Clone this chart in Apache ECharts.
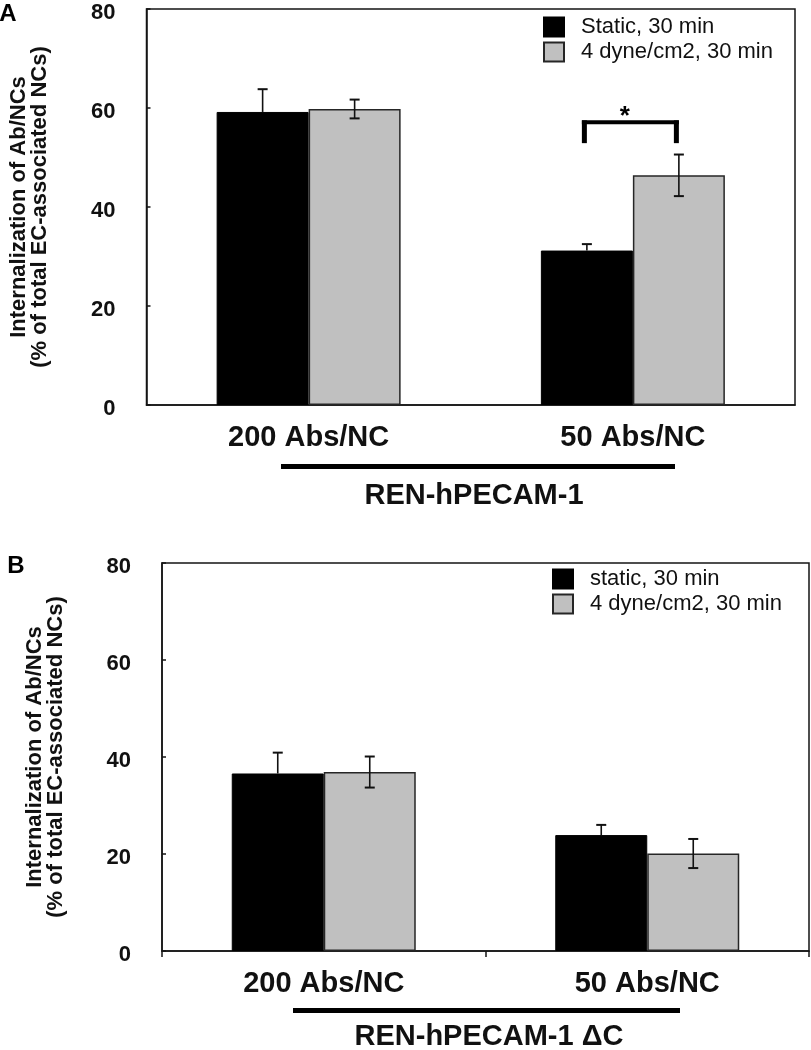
<!DOCTYPE html>
<html><head><meta charset="utf-8">
<script src="https://cdn.jsdelivr.net/npm/echarts@6/dist/echarts.min.js"></script>
<style>html,body{margin:0;padding:0;background:#fff}#c{width:811px;height:1050px}</style>
</head><body><div id="c"></div>
<script>
// ---------- data ----------
const categories = ['200 Abs/NC', '50 Abs/NC'];
const yTicks = [0, 20, 40, 60, 80];
const yTitle = 'Internalization of Ab/NCs\n(% of total EC-associated NCs)';

// Panel A
const aStaticName = 'Static, 30 min';
const aShearName = '4 dyne/cm2, 30 min';
const aStatic = [59.2, 31.2];
const aStaticErr = [4.6, 1.3];
const aShear = [59.8, 46.4];
const aShearErr = [1.9, 4.2];
const aBracket = [1, 57.1, 52.9];   // category index, bracket bar value, tick end value
const aGroupLabel = 'REN-hPECAM-1';

// Panel B
const bStaticName = 'static, 30 min';
const bShearName = '4 dyne/cm2, 30 min';
const bStatic = [36.6, 23.9];
const bStaticErr = [4.3, 2.1];
const bShear = [36.9, 20.1];
const bShearErr = [3.2, 3.0];
const bGroupLabel = 'REN-hPECAM-1 \u0394C';

// ---------- styling ----------
const FF = '"Liberation Sans", Arial, Helvetica, sans-serif';
const BAR_W = 92;
const INK = '#151515';
const GRAY = '#c0c0c0';

function yAxisCfg(gridIndex) {
  return {
    type: 'value', gridIndex,
    min: yTicks[0], max: yTicks[yTicks.length - 1], interval: yTicks[1] - yTicks[0],
    name: yTitle, nameLocation: 'middle', nameRotate: 90, nameGap: 96,
    nameTextStyle: { fontFamily: FF, fontWeight: 'bold', fontSize: 22, lineHeight: 21, color: '#111' },
    axisLine: { show: true, lineStyle: { color: INK, width: 1.5 } },
    axisTick: { show: true, inside: true, length: 4, lineStyle: { color: INK, width: 1.5 } },
    axisLabel: {
      margin: 31, formatter: '{t|{value}}',
      rich: { t: { padding: [8, 0, 0, 0], fontFamily: FF, fontWeight: 'bold', fontSize: 22, color: '#111' } }
    },
    splitLine: { show: false }
  };
}
function xAxisCfg(gridIndex, ticks) {
  return {
    type: 'category', gridIndex, data: categories,
    axisLine: { show: true, lineStyle: { color: INK, width: 1.5 } },
    axisTick: { show: ticks, inside: false, length: 6, alignWithLabel: false, lineStyle: { color: INK, width: 1.5 } },
    axisLabel: { margin: 18, fontFamily: FF, fontWeight: 'bold', fontSize: 29, color: '#111' },
    splitLine: { show: false }
  };
}
function barSeries(gridIndex, name, data, gray) {
  return {
    type: 'bar', name, data, xAxisIndex: gridIndex, yAxisIndex: gridIndex,
    barWidth: BAR_W, barGap: '0%', z: 2,
    itemStyle: gray ? { color: GRAY, borderColor: '#262626', borderWidth: 1.5 } : { color: '#000', borderColor: '#000', borderWidth: 1 }
  };
}
// upperOnly: the lower half is hidden inside the black bar in the original
function errorSeries(gridIndex, values, errs, side, upperOnly) {
  return {
    type: 'custom', xAxisIndex: gridIndex, yAxisIndex: gridIndex, z: 5, silent: true,
    encode: { x: 0, y: [1, 2, 3] },
    data: values.map((v, i) => [i, v - errs[i], v + errs[i], v]),
    renderItem(params, api) {
      const c = api.value(0);
      const lo = api.coord([c, upperOnly ? api.value(3) : api.value(1)]);
      const hi = api.coord([c, api.value(2)]);
      const cx = lo[0] + side * BAR_W / 2;
      const cap = 5;
      const children = [
        { type: 'line', shape: { x1: cx, y1: hi[1], x2: cx, y2: lo[1] }, style: { stroke: '#111', lineWidth: 1.6 } },
        { type: 'line', shape: { x1: cx - cap, y1: hi[1], x2: cx + cap, y2: hi[1] }, style: { stroke: '#111', lineWidth: 2 } }
      ];
      if (!upperOnly) children.push({ type: 'line', shape: { x1: cx - cap, y1: lo[1], x2: cx + cap, y2: lo[1] }, style: { stroke: '#111', lineWidth: 2 } });
      return { type: 'group', children };
    }
  };
}
const bracketSeries = {
  type: 'custom', xAxisIndex: 0, yAxisIndex: 0, z: 6, silent: true,
  encode: { x: 0, y: [1, 2] },
  data: [aBracket],
  renderItem(params, api) {
    const c = api.value(0);
    const top = api.coord([c, api.value(1)]);
    const bot = api.coord([c, api.value(2)]);
    const xl = top[0] - BAR_W / 2 - 2.5;
    const xr = top[0] + BAR_W / 2 - 2.5;
    return { type: 'group', children: [
      { type: 'rect', shape: { x: xl - 2.5, y: top[1] - 2, width: xr - xl + 5, height: 4 }, style: { fill: '#000' } },
      { type: 'rect', shape: { x: xl - 2.5, y: top[1] - 2, width: 5, height: bot[1] - top[1] + 2 }, style: { fill: '#000' } },
      { type: 'rect', shape: { x: xr - 2.5, y: top[1] - 2, width: 5, height: bot[1] - top[1] + 2 }, style: { fill: '#000' } },
      { type: 'text', style: { text: '*', x: top[0] - 8, y: top[1] - 6, align: 'center', verticalAlign: 'middle', font: 'bold 26px ' + FF, fill: '#000' } }
    ] };
  }
};
function legendCfg(names, left, top) {
  return {
    data: names, left, top, orient: 'vertical', icon: 'rect', padding: 0,
    itemWidth: 20, itemHeight: 19, itemGap: 3, selectedMode: false,
    textStyle: { fontFamily: FF, fontSize: 22, color: '#111', padding: [0, 0, 0, 12] }
  };
}

const chart = echarts.init(document.getElementById('c'), null, { renderer: 'canvas' });
chart.setOption({
  animation: false,
  backgroundColor: '#fff',
  grid: [
    { left: 146, top: 9, right: 16, bottom: 645, show: true, borderColor: INK, borderWidth: 1.5, backgroundColor: 'transparent' },
    { left: 162, top: 563, right: 2, bottom: 99, show: true, borderColor: INK, borderWidth: 1.5, backgroundColor: 'transparent' }
  ],
  xAxis: [xAxisCfg(0, false), xAxisCfg(1, true)],
  yAxis: [yAxisCfg(0), yAxisCfg(1)],
  legend: [
    legendCfg([aStaticName, aShearName], 543, 16),
    legendCfg([bStaticName, bShearName], 552, 568)
  ],
  series: [
    barSeries(0, aStaticName, aStatic, false),
    barSeries(0, aShearName, aShear, true),
    errorSeries(0, aStatic, aStaticErr, -1, true),
    errorSeries(0, aShear, aShearErr, 1, false),
    bracketSeries,
    barSeries(1, bStaticName, bStatic, false),
    barSeries(1, bShearName, bShear, true),
    errorSeries(1, bStatic, bStaticErr, -1, true),
    errorSeries(1, bShear, bShearErr, 1, false)
  ],
  graphic: [
    { type: 'text', x: 8, y: 14, style: { text: 'A', align: 'center', verticalAlign: 'middle', font: 'bold 24px ' + FF, fill: '#000' } },
    { type: 'text', x: 16, y: 566, style: { text: 'B', align: 'center', verticalAlign: 'middle', font: 'bold 24px ' + FF, fill: '#000' } },
    { type: 'rect', shape: { x: 281, y: 464, width: 394, height: 5 }, style: { fill: '#000' } },
    { type: 'rect', shape: { x: 293, y: 1008, width: 387, height: 5 }, style: { fill: '#000' } },
    { type: 'text', x: 474, y: 496, style: { text: aGroupLabel, align: 'center', verticalAlign: 'middle', font: 'bold 29px ' + FF, fill: '#111' } },
    { type: 'text', x: 489, y: 1037, style: { text: bGroupLabel, align: 'center', verticalAlign: 'middle', font: 'bold 29px ' + FF, fill: '#111' } }
  ]
});
</script></body></html>
